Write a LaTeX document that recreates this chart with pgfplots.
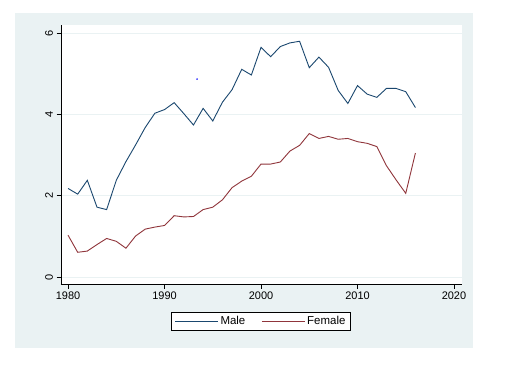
\documentclass[border=0pt]{standalone}
\usepackage{pgfplots}
\pgfplotsset{compat=1.18}
\usepackage{fontspec}
\setmainfont{Liberation Sans}
\definecolor{panel}{RGB}{234,242,243}
\definecolor{stnavy}{RGB}{26,71,111}
\definecolor{stmaroon}{RGB}{144,53,59}
\begin{document}
\begin{tikzpicture}
\path[use as bounding box, fill=white] (-61bp,-87bp) rectangle (463bp,284bp);
\fill[panel] (-46bp,-64bp) rectangle (412bp,271bp);
\begin{axis}[
  scale only axis, width=401bp, height=259bp,
  xmin=1979.27, xmax=2020.83, ymin=-0.17, ymax=6.2,
  axis background/.style={fill=white},
  axis x line*=bottom, axis y line*=left,
  axis line style={black, line width=0.8bp, -},
  tick align=outside, major tick length=4.5bp,
  tick style={black, line width=0.8bp},
  xtick={1980,1990,2000,2010,2020}, ytick={0,2,4,6},
  ymajorgrids, grid style={panel, line width=1bp},
  /pgf/number format/1000 sep={},
  /pgf/number format/assume math mode=true,
  ticklabel style={font=\fontsize{11}{13}\selectfont},
  yticklabel style={rotate=90, anchor=south},
  legend style={at={(0.4988,-0.143)}, anchor=center, draw=black, line width=0.8bp, fill=white,
    font=\fontsize{11.5}{13}\selectfont, legend columns=2,
    /tikz/every even column/.append style={column sep=14bp}},
  legend image code/.code={\draw[#1] (0bp,0bp) -- (43bp,0bp);},
]
\addplot[stnavy, line width=0.9bp] coordinates {
(1980,2.18)(1981,2.04)(1982,2.38)(1983,1.72)(1984,1.66)(1985,2.38)(1986,2.84)(1987,3.25)
(1988,3.68)(1989,4.03)(1990,4.12)(1991,4.29)(1992,4.02)(1993,3.74)(1994,4.15)(1995,3.84)
(1996,4.30)(1997,4.61)(1998,5.11)(1999,4.97)(2000,5.65)(2001,5.42)(2002,5.67)(2003,5.76)
(2004,5.80)(2005,5.15)(2006,5.41)(2007,5.16)(2008,4.59)(2009,4.27)(2010,4.71)(2011,4.50)
(2012,4.42)(2013,4.64)(2014,4.64)(2015,4.56)(2016,4.17)};
\addlegendentry{Male}
\addplot[stmaroon, line width=0.9bp] coordinates {
(1980,1.03)(1981,0.61)(1982,0.64)(1983,0.80)(1984,0.95)(1985,0.88)(1986,0.71)(1987,1.01)
(1988,1.18)(1989,1.23)(1990,1.27)(1991,1.51)(1992,1.48)(1993,1.49)(1994,1.66)(1995,1.72)
(1996,1.90)(1997,2.20)(1998,2.36)(1999,2.48)(2000,2.78)(2001,2.78)(2002,2.83)(2003,3.10)
(2004,3.24)(2005,3.53)(2006,3.41)(2007,3.46)(2008,3.39)(2009,3.41)(2010,3.33)(2011,3.29)
(2012,3.21)(2013,2.74)(2014,2.39)(2015,2.06)(2016,3.05)};
\addlegendentry{Female}
\addplot[only marks, mark=*, mark size=0.5bp, blue, forget plot] coordinates {(1993.37,4.87)};
\end{axis}
\end{tikzpicture}
\end{document}
